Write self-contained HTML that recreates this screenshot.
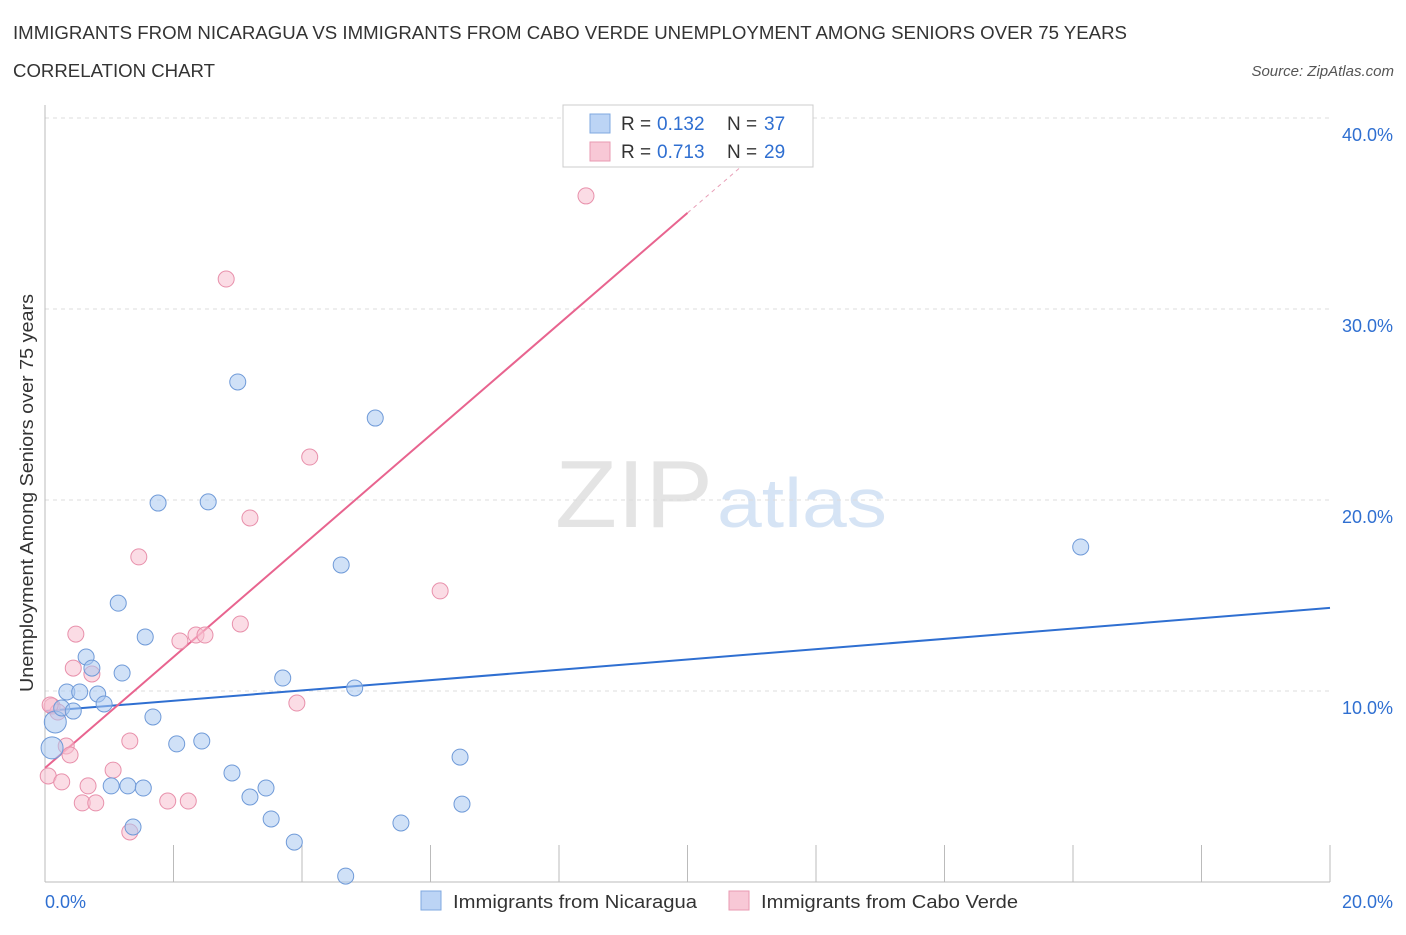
<!DOCTYPE html>
<html><head><meta charset="utf-8"><style>
body{margin:0;background:#fff;font-family:"Liberation Sans",sans-serif;}
svg text{font-family:"Liberation Sans",sans-serif;}
</style></head><body>
<svg id="chart" width="1406" height="930" xmlns="http://www.w3.org/2000/svg">
<text x="13" y="39" font-size="18" fill="#333" textLength="1114" lengthAdjust="spacingAndGlyphs">IMMIGRANTS FROM NICARAGUA VS IMMIGRANTS FROM CABO VERDE UNEMPLOYMENT AMONG SENIORS OVER 75 YEARS</text>
<text x="13" y="77" font-size="18" fill="#333" textLength="202" lengthAdjust="spacingAndGlyphs">CORRELATION CHART</text>
<text x="1394" y="76" font-size="15" fill="#555" font-style="italic" text-anchor="end">Source: ZipAtlas.com</text>
<text x="555" y="527" font-size="96" fill="#e4e4e4" font-family="Liberation Serif" textLength="158" lengthAdjust="spacingAndGlyphs">ZIP</text>
<text x="717" y="527" font-size="70" fill="#d6e4f5" textLength="170" lengthAdjust="spacingAndGlyphs">atlas</text>
<text transform="translate(33,493) rotate(-90)" font-size="18" fill="#333" text-anchor="middle" textLength="398" lengthAdjust="spacingAndGlyphs">Unemployment Among Seniors over 75 years</text>
<g id="grid"></g><g id="axes"></g><g id="trends"></g><g id="points"></g>
<g>
<rect x="563" y="105" width="250" height="62" fill="#fff" stroke="#ccc"/>
<rect x="590" y="114" width="20" height="19" fill="#bcd4f5" stroke="#7fa8e0"/>
<rect x="590" y="142" width="20" height="19" fill="#f8c8d6" stroke="#e89ab2"/>
<text x="621" y="130" font-size="19" fill="#333">R = </text>
<text x="657" y="130" font-size="19" fill="#2f6fd1">0.132</text>
<text x="727" y="130" font-size="19" fill="#333">N = </text>
<text x="764" y="130" font-size="19" fill="#2f6fd1">37</text>
<text x="621" y="158" font-size="19" fill="#333">R = </text>
<text x="657" y="158" font-size="19" fill="#2f6fd1">0.713</text>
<text x="727" y="158" font-size="19" fill="#333">N = </text>
<text x="764" y="158" font-size="19" fill="#2f6fd1">29</text>
</g>
<g>
<rect x="421" y="891" width="20" height="19" fill="#bcd4f5" stroke="#7fa8e0"/>
<text x="453" y="908" font-size="18" fill="#333" textLength="244" lengthAdjust="spacingAndGlyphs">Immigrants from Nicaragua</text>
<rect x="729" y="891" width="20" height="19" fill="#f8c8d6" stroke="#e89ab2"/>
<text x="761" y="908" font-size="18" fill="#333" textLength="257" lengthAdjust="spacingAndGlyphs">Immigrants from Cabo Verde</text>
</g>
</svg>
<script>
const xTicks=[0,2,4,6,8,10,12,14,16,18,20];
const yTicks=[10,20,30,40];
const blueX=[0.16,0.11,0.26,0.34,0.44,0.54,0.64,0.73,0.82,0.92,1.14,1.20,1.03,1.29,1.37,1.53,1.56,1.68,1.76,2.05,2.44,2.54,2.91,3.00,3.19,3.44,3.52,3.70,3.88,4.61,4.68,4.82,5.14,5.54,6.46,6.49,16.12];
const blueY=[8.38,7.02,9.11,9.95,8.95,9.95,11.78,11.2,9.84,9.32,14.6,10.94,5.03,5.03,2.88,4.92,12.83,8.64,19.84,7.23,7.38,19.9,5.71,26.18,4.45,4.92,3.30,10.68,2.09,16.6,0.31,10.16,24.29,3.09,6.54,4.08,17.54];
const pinkX=[0.05,0.11,0.2,0.26,0.33,0.39,0.44,0.48,0.58,0.67,0.73,0.79,1.06,1.32,1.32,1.46,1.91,2.1,2.23,2.35,2.49,2.82,3.04,3.19,3.92,4.12,6.15,8.42,0.08];
const pinkY=[5.55,9.21,8.9,5.24,7.12,6.65,11.2,12.98,4.14,5.03,10.89,4.14,5.86,7.38,2.62,17.02,4.24,12.62,4.24,12.93,12.93,31.57,13.51,19.06,9.37,22.25,15.24,35.92,9.27];
const blueTrend=[[0,8.95],[20,14.35]];
const pinkTrend=[[0,5.97],[10,35.03]];
const pinkDash=[[10,35.03],[11.3,38.8]];
const X=v=>45+v*64.25, Y=v=>882-v*19.1;
const NS="http://www.w3.org/2000/svg";
function mk(parent,tag,attrs){const e=document.createElementNS(NS,tag);for(const k in attrs)e.setAttribute(k,attrs[k]);document.getElementById(parent).appendChild(e);return e;}
yTicks.forEach(t=>{
 const l=mk('grid','line',{x1:45,x2:1330,y1:Y(t),y2:Y(t),stroke:'#ddd','stroke-dasharray':'4,4'});
 
 
 const tx=mk('grid','text',{x:1393,y:Y(t)+23,'font-size':18,fill:'#2f6fd1','text-anchor':'end'});tx.textContent=t.toFixed(1)+'%';
 
 
});
const ya=mk('axes','line',{x1:45,x2:45,y1:105,y2:882,stroke:'#bbb'});


const xa=mk('axes','line',{x1:45,x2:1330,y1:882,y2:882,stroke:'#bbb'});


xTicks.forEach(t=>{const l=mk('axes','line',{x1:X(t),x2:X(t),y1:845,y2:882,stroke:'#bbb'});
 
 });
[[0,'start',45],[20,'end',1393]].forEach(([t,a,px])=>{const tx=mk('axes','text',{x:px,y:908,'font-size':18,fill:'#2f6fd1','text-anchor':a});tx.textContent=t.toFixed(1)+'%';
 
 });
function pts(xs,ys,fill,stroke,name){xs.forEach((x,i)=>{const r=(i<2&&name==='nicaragua-point')?11:8;
 const c=mk('points','circle',{cx:X(x),cy:Y(ys[i]),r:r,fill:fill,stroke:stroke,'fill-opacity':0.55,'stroke-width':1});
 
 });}
pts(pinkX,pinkY,'#f8bfd0','#e890ab','cabo-verde-point');
pts(blueX,blueY,'#aac8f0','#6f9ad8','nicaragua-point');
function line(d,col,dash,name){const l=mk('trends','line',{x1:X(d[0][0]),y1:Y(d[0][1]),x2:X(d[1][0]),y2:Y(d[1][1]),stroke:col,'stroke-width':2});if(dash){l.setAttribute('stroke-dasharray','4,4');l.setAttribute('stroke-width',1);}
 
 }
line(blueTrend,'#2f6fd1',false,'nicaragua-trendline');
line(pinkTrend,'#e8648f',false,'cabo-verde-trendline');
line(pinkDash,'#e8a0b8',true,'cabo-verde-trend-extension');
</script>
</body></html>
